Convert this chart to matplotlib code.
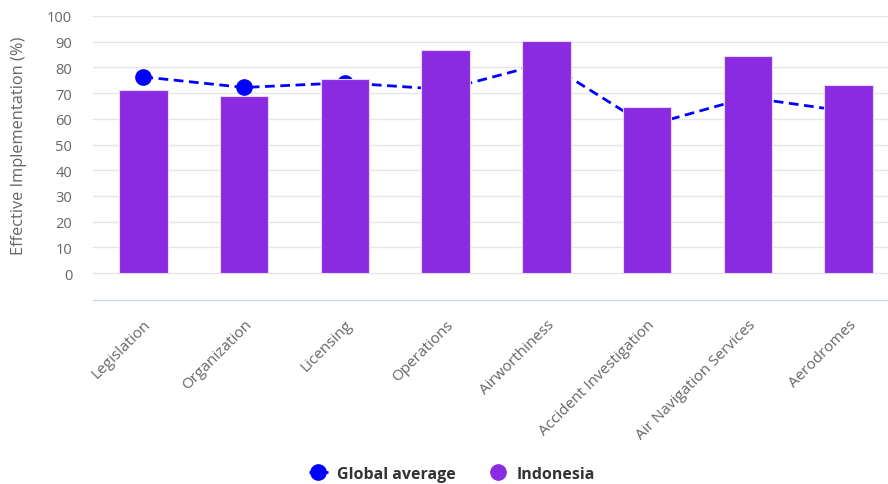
import matplotlib.pyplot as plt
from matplotlib.lines import Line2D

plt.rcParams['font.family'] = ['Open Sans', 'DejaVu Sans']

categories = ['Legislation', 'Organization', 'Licensing', 'Operations', 'Airworthiness',
              'Accident Investigation', 'Air Navigation Services', 'Aerodromes']
indonesia = [71.2, 68.9, 75.5, 86.8, 90.3, 64.6, 84.4, 73.2]
global_avg = [76.3, 72.2, 74.0, 71.4, 81.8, 57.3, 68.3, 62.8]
yticks = [0, 10, 20, 30, 40, 50, 60, 70, 80, 90, 100]

W, H = 888, 485
fig = plt.figure(figsize=(W / 100, H / 100), dpi=100)
# plot area in pixels: left 93, right 899, top 17, bottom 301
ax = fig.add_axes([93 / W, (H - 301) / H, (899 - 93) / W, (301 - 17) / H])

x = list(range(len(categories)))
ax.plot(x, global_avg, color='#0000ff', linestyle=(0, (3.5, 2)), linewidth=2,
        marker='o', markersize=11, zorder=2)
ax.bar(x, indonesia, width=0.48, color='#8a2be2', edgecolor='#e8d8f8', linewidth=0.8, zorder=3)

ax.set_xlim(-0.5, len(categories) - 0.5)
ax.set_ylim(-10.5, 100)
ax.set_yticks(yticks)
ax.set_yticklabels([str(v) for v in yticks], fontsize=10.5, color='#666666')
ax.tick_params(axis='y', length=0, pad=15)
for v in yticks:
    ax.axhline(v, color='#e6e6e6', linewidth=1, zorder=1)

ax.set_xticks(x)
ax.set_xticklabels(categories, rotation=45, ha='right', va='top', rotation_mode='anchor',
                   fontsize=11, color='#666666')
ax.tick_params(axis='x', length=0, pad=12)

for s in ['top', 'right', 'left']:
    ax.spines[s].set_visible(False)
ax.spines['bottom'].set_color('#ccd6eb')
ax.spines['bottom'].set_linewidth(1)

ax.set_ylabel('Effective Implementation (%)', fontsize=11.8, color='#666666')
ax.yaxis.set_label_coords(-66 / (899 - 93), (301 - 146) / (301 - 17))

handles = [
    Line2D([0], [0], color='#0000ff', linestyle=(0, (3.5, 2)), linewidth=2, marker='o', markersize=11),
    Line2D([0], [0], color='#8a2be2', linestyle='none', marker='o', markersize=11),
]
leg = fig.legend(handles, ['Global average', 'Indonesia'], loc='center',
                 bbox_to_anchor=(452 / W, 1 - 475 / H), ncol=2, frameon=False,
                 prop={'size': 11.5, 'weight': 'bold'}, handlelength=1.2, columnspacing=2.0,
                 handletextpad=0.6)
for t in leg.get_texts():
    t.set_color('#333333')

fig.savefig('out.png', dpi=100)
